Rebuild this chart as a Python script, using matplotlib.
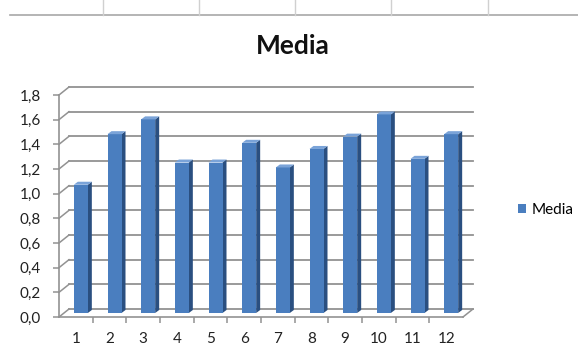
import numpy as np
import matplotlib
matplotlib.use("Agg")
import matplotlib.pyplot as plt
from matplotlib.patches import Polygon, Patch
from matplotlib.lines import Line2D

plt.rcParams['font.family'] = ['Lato', 'DejaVu Sans']

# Data
months = [1, 2, 3, 4, 5, 6, 7, 8, 9, 10, 11, 12]
media = [1.04, 1.45, 1.57, 1.22, 1.22, 1.38, 1.18, 1.33, 1.43, 1.61, 1.25, 1.45]
y_ticks = [0.0, 0.2, 0.4, 0.6, 0.8, 1.0, 1.2, 1.4, 1.6, 1.8]
y_tick_labels = ["0,0", "0,2", "0,4", "0,6", "0,8", "1,0", "1,2", "1,4", "1,6", "1,8"]
x_tick_labels = [str(m) for m in months]
series_name = "Media"

W, H = 578, 353
fig = plt.figure(figsize=(W / 100, H / 100), dpi=100)
fig.patch.set_facecolor("white")

# spreadsheet cell borders behind the chart
grid_col = "#d0d0d0"
fig.add_artist(Line2D([10 / W, 1], [1 - 14.7 / H] * 2, color="#a8a8a8", lw=1.2))
for xp in [103, 199, 295, 391, 488]:
    fig.add_artist(Line2D([xp / W] * 2, [1, 1 - 14.7 / H], color=grid_col, lw=1.0))

# front plane of the 3D box
x0, x1 = 59, 463
y0, y1 = 317, 95
ax = fig.add_axes([x0 / W, 1 - y0 / H, (x1 - x0) / W, (y0 - y1) / H])
ax.set_xlim(0.5, 12.5)
ax.set_ylim(0, 1.8)
ax.set_facecolor("none")

px_x = (x1 - x0) / 12.0      # pixels per category
px_y = (y0 - y1) / 1.8       # pixels per unit

# depth of box, front offset of bars, bar depth (in data units)
Dx, Dy = 10 / px_x, 8 / px_y
ox, oy = 5 / px_x, 4 / px_y
bx, by = 4 / px_x, 3 / px_y
bw = 14 / px_x

line_col = "#929292"

# back wall gridlines and left wall diagonals
for t in y_ticks:
    ax.plot([0.5 + Dx, 12.5 + Dx], [t + Dy, t + Dy], color=line_col, lw=1.3,
            clip_on=False, zorder=1)
    ax.plot([0.5, 0.5 + Dx], [t, t + Dy], color=line_col, lw=1.1,
            clip_on=False, zorder=1)
# right edge of the floor
ax.plot([12.5, 12.5 + Dx], [0, Dy], color=line_col, lw=1.1, clip_on=False, zorder=1)

# bars: front face, side face and top face
front_col = "#4a7ebf"
side_col = "#2a4f80"
top_col = "#7aa3d8"
xs = np.array(months, dtype=float) + ox
vals = np.array(media)
ax.bar(xs, vals, width=bw, bottom=oy, color=front_col, zorder=3, linewidth=0)
for xc, v in zip(xs, vals):
    r = xc + bw / 2
    l = xc - bw / 2
    side = Polygon([(r, oy), (r + bx, oy + by), (r + bx, v + oy + by), (r, v + oy)],
                   closed=True, facecolor=side_col, edgecolor="none", zorder=2,
                   clip_on=False)
    top = Polygon([(l, v + oy), (r, v + oy), (r + bx, v + oy + by), (l + bx, v + oy + by)],
                  closed=True, facecolor=top_col, edgecolor="none", zorder=3,
                  clip_on=False)
    ax.add_patch(side)
    ax.add_patch(top)

# axes styling
for s in ["top", "right"]:
    ax.spines[s].set_visible(False)
for s in ["left", "bottom"]:
    ax.spines[s].set_color(line_col)
    ax.spines[s].set_linewidth(1.2)

ax.set_yticks(y_ticks)
ax.set_yticklabels(y_tick_labels)
ax.set_xticks(months)
ax.set_xticklabels(x_tick_labels)
ax.set_xticks(np.arange(1.5, 12.5, 1.0), minor=True)
ax.tick_params(axis="y", length=4, width=1.1, color=line_col, pad=9,
               labelsize=11, labelcolor="#222222")
ax.tick_params(axis="x", which="major", length=0, pad=11, labelsize=11,
               labelcolor="#222222")
ax.tick_params(axis="x", which="minor", length=4, width=1.1, color=line_col)

# title
fig.text(293 / W, 1 - 46 / H, "Media", ha="center", va="center",
         fontsize=19, fontweight="bold", color="#111111")

# legend
fig.legend(handles=[Patch(facecolor=front_col, edgecolor="none")],
           labels=[series_name], loc="center left",
           bbox_to_anchor=(510 / W, 1 - 210 / H), frameon=False,
           handlelength=0.55, handleheight=0.55, handletextpad=0.35,
           borderpad=0, fontsize=11)

fig.savefig("out.png", dpi=100, facecolor="white")
